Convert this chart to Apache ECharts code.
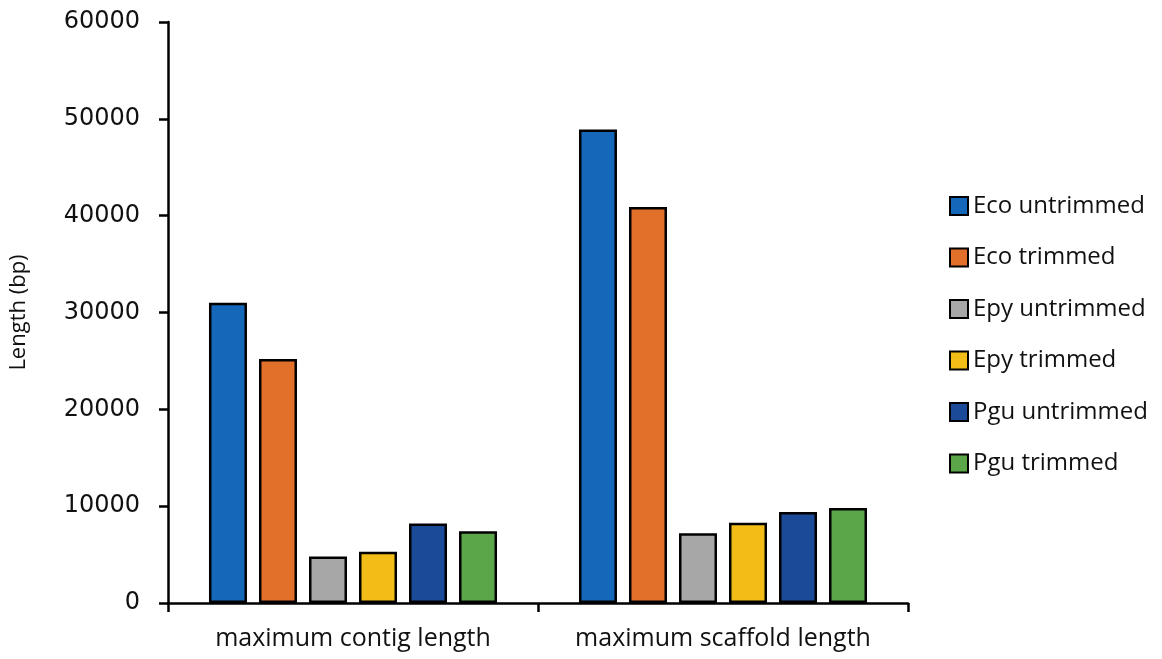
<!DOCTYPE html>
<html><head><meta charset="utf-8">
<script src="https://cdn.jsdelivr.net/npm/echarts@6/dist/echarts.min.js"></script>
<style>html,body{margin:0;padding:0;background:#fff}#c{width:1162px;height:659px}</style>
</head><body><div id="c"></div>
<script>
const categories = ['maximum contig length', 'maximum scaffold length'];
const seriesNames = ['Eco untrimmed', 'Eco trimmed', 'Epy untrimmed', 'Epy trimmed', 'Pgu untrimmed', 'Pgu trimmed'];
const ecoUntrimmed = [31000, 48900];
const ecoTrimmed = [25200, 40900];
const epyUntrimmed = [4800, 7200];
const epyTrimmed = [5300, 8300];
const pguUntrimmed = [8200, 9400];
const pguTrimmed = [7400, 9800];
const colors = ['#1467B9', '#E2702B', '#A7A7A7', '#F3BD18', '#1B4A98', '#5CA64A'];
const yTicks = [0, 10000, 20000, 30000, 40000, 50000, 60000];

const values = [ecoUntrimmed, ecoTrimmed, epyUntrimmed, epyTrimmed, pguUntrimmed, pguTrimmed];
const chart = echarts.init(document.getElementById('c'));
chart.setOption({
  backgroundColor: '#fff',
  animation: false,
  grid: { left: 166, right: 254, top: 22, bottom: 56 },
  legend: {
    orient: 'vertical', left: 944, top: 188,
    itemWidth: 18, itemHeight: 18, itemGap: 25.5,
    icon: 'rect',
    itemStyle: { borderColor: '#000', borderWidth: 2 },
    textStyle: { fontFamily: 'Open Sans', fontSize: 24, color: '#111', lineHeight: 26 },
    data: seriesNames
  },
  xAxis: {
    type: 'category', data: categories,
    axisLine: { lineStyle: { color: '#000', width: 2.5 } },
    axisTick: { show: true, interval: 0, alignWithLabel: false, length: 9, lineStyle: { color: '#000', width: 2.5 } },
    axisLabel: { interval: 0, hideOverlap: false, fontFamily: 'Open Sans', fontSize: 25, color: '#111', margin: 23 }
  },
  yAxis: {
    type: 'value', min: yTicks[0], max: yTicks[yTicks.length - 1], interval: 10000,
    name: 'Length (bp)', nameLocation: 'middle', nameGap: 138, nameRotate: 90,
    nameTextStyle: { fontFamily: 'Open Sans', fontSize: 22, color: '#111' },
    splitLine: { show: false },
    axisLine: { show: true, lineStyle: { color: '#000', width: 2.5 } },
    axisTick: { show: true, length: 9, lineStyle: { color: '#000', width: 2.5 } },
    axisLabel: { fontFamily: 'DejaVu Sans', fontSize: 24, color: '#111', margin: 28, formatter: v => String(v) }
  },
  series: seriesNames.map((n, i) => ({
    name: n, type: 'bar', data: values[i],
    barWidth: 38, barGap: '31.6%',
    itemStyle: { color: colors[i], borderColor: '#000', borderWidth: 2.5 }
  }))
});
</script></body></html>
